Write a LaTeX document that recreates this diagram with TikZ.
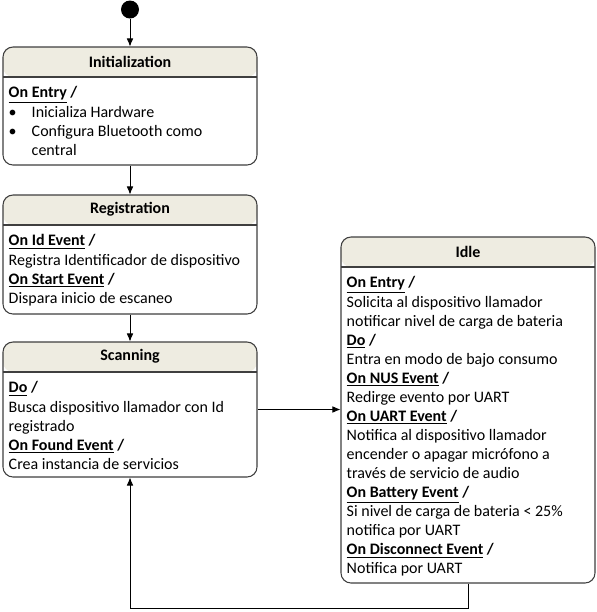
\documentclass[tikz,border=0pt]{standalone}
\usepackage{fontspec}
\setmainfont{Carlito}
\usepackage{tikz}
\usepackage{xcolor}
\usetikzlibrary{arrows.meta,positioning}

\definecolor{headfill}{HTML}{EEECE1}
\definecolor{edge}{HTML}{3F3F3F}
\newcommand{\evt}[1]{\textbf{\underline{#1}}~\textbf{/}}
\newcommand{\bul}{\makebox[17.25pt][l]{\textbullet}}

\tikzset{
    statebox/.style={draw=edge, line width=0.8pt, rounded corners=7.5pt,
        minimum width=190.5pt, inner sep=0pt, fill=white,
        path picture={
            \fill[headfill] (path picture bounding box.north west)
                rectangle ([yshift=-22.5pt]path picture bounding box.north east);
            \draw[edge, line width=0.8pt] ([yshift=-22.5pt]path picture bounding box.north west)
                -- ([yshift=-22.5pt]path picture bounding box.north east);
        }},
    title/.style={font=\fontsize{12}{14.3}\selectfont\bfseries, inner sep=0pt},
    body/.style={align=left, anchor=north west, inner sep=0pt},
    arr/.style={-{Latex[length=6pt,width=5pt]}, line width=0.6pt},
}

\begin{document}
\begin{tikzpicture}[x=0.75pt, y=-0.75pt, font=\fontsize{12}{14.3}\selectfont]
    \useasboundingbox (0,0) rectangle (597,612);

    % Start
    \node [circle, fill=black, minimum size=13.5pt, inner sep=0pt] (start) at (130,9.5) {};

    % States
    \node [statebox, minimum height=88.5pt] (init) at (130,106) {};
    \node [statebox, minimum height=89.25pt] (reg) at (130,254.5) {};
    \node [statebox, minimum height=101.25pt] (scan) at (130,409.5) {};
    \node [statebox, minimum height=259.5pt] (idle) at (468,410) {};

    % Titles
    \node [title] (initT) at ([yshift=-11.25pt]init.north) {Initialization};
    \node [title] (regT) at ([yshift=-11.25pt]reg.north) {Registration};
    \node [title] (scanT) at ([yshift=-11.25pt]scan.north) {Scanning};
    \node [title] (idleT) at ([yshift=-11.25pt]idle.north) {Idle};

    % Initialization
    \node [body] (initB) at ([shift={(4.5pt,-30pt)}]init.north west)
        {\evt{On Entry}\\
         \bul Inicializa Hardware\\
         \bul Configura Bluetooth como\\
         \hspace*{17.25pt}central};

    % Registration
    \node [body] (regB) at ([shift={(4.5pt,-30pt)}]reg.north west)
        {\evt{On Id Event}\\
         Registra Identificador de dispositivo\\
         \evt{On Start Event}\\
         Dispara inicio de escaneo};

    % Scanning
    \node [body] (scanB) at ([shift={(4.5pt,-30pt)}]scan.north west)
        {\evt{Do}\\
         Busca dispositivo llamador con Id\\
         registrado\\
         \evt{On Found Event}\\
         Crea instancia de servicios};

    % Idle
    \node [body] (idleB) at ([shift={(4.5pt,-30pt)}]idle.north west)
        {\evt{On Entry}\\
         Solicita al dispositivo llamador\\
         notificar nivel de carga de bateria\\
         \evt{Do}\\
         Entra en modo de bajo consumo\\
         \evt{On NUS Event}\\
         Redirge evento por UART\\
         \evt{On UART Event}\\
         Notifica al dispositivo llamador\\
         encender o apagar micrófono a\\
         través de servicio de audio\\
         \evt{On Battery Event}\\
         Si nivel de carga de bateria < 25\%\\
         notifica por UART\\
         \evt{On Disconnect Event}\\
         Notifica por UART};

    % Transitions
    \draw [arr] (start) -- (init);
    \draw [arr] (init) -- (reg);
    \draw [arr] (reg) -- (scan);
    \draw [arr] (scan.east) -- (scan.east -| idle.west);
    \draw [arr] (idle.south) -- ++(0,25) -| (scan.south);
\end{tikzpicture}
\end{document}
